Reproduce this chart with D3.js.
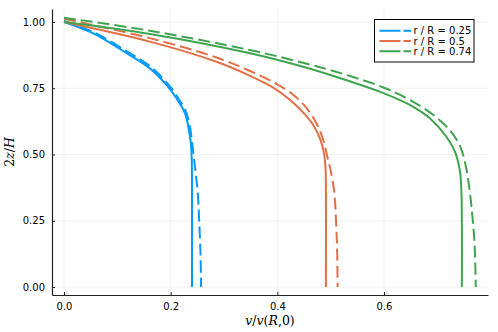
<!DOCTYPE html>
<html>
<head>
<meta charset="utf-8">
<script src="https://cdn.jsdelivr.net/npm/d3@7"></script>
<style>
  body { margin: 0; background: #fff; }
  svg { display: block; font-family: "DejaVu Sans", sans-serif; }
</style>
</head>
<body>
<div id="chart"></div>
<script>
// values: v/v(R,0) against 2z/H
const labels = ["r / R = 0.25", "r / R = 0.5", "r / R = 0.74"];
const colors = ["#009AFA", "#E36F47", "#3EA44E"];

const blueSolidV = [0, 0.055, 0.1175, 0.161, 0.1925, 0.211, 0.227, 0.2335, 0.238, 0.2395, 0.24, 0.24];
const blueSolidZ = [1.0, 0.957, 0.882, 0.825, 0.762, 0.712, 0.655, 0.6, 0.54, 0.48, 0.4, 0];
const blueDashV = [0, 0.055, 0.118, 0.162, 0.194, 0.213, 0.229, 0.2365, 0.2405, 0.244, 0.2475, 0.2506, 0.2535, 0.256, 0.257];
const blueDashZ = [1.004, 0.962, 0.889, 0.832, 0.768, 0.716, 0.66, 0.6, 0.54, 0.48, 0.42, 0.36, 0.25, 0.12, 0];

const orangeSolidV = [0, 0.161, 0.286, 0.349, 0.39, 0.424, 0.45, 0.467, 0.48, 0.487, 0.49, 0.491, 0.491];
const orangeSolidZ = [1.0, 0.926, 0.85, 0.797, 0.755, 0.706, 0.655, 0.612, 0.56, 0.51, 0.46, 0.4, 0];
const orangeDashV = [0, 0.161, 0.286, 0.349, 0.395, 0.43, 0.455, 0.474, 0.486, 0.494, 0.5, 0.507, 0.51, 0.512, 0.513];
const orangeDashZ = [1.012, 0.939, 0.866, 0.815, 0.77, 0.725, 0.675, 0.615, 0.555, 0.49, 0.44, 0.354, 0.25, 0.15, 0];

const greenSolidV = [0, 0.161, 0.349, 0.45, 0.53, 0.592, 0.655, 0.686, 0.717, 0.733, 0.742, 0.745, 0.746, 0.746];
const greenSolidZ = [1.0, 0.955, 0.882, 0.83, 0.78, 0.737, 0.68, 0.637, 0.567, 0.511, 0.442, 0.366, 0.25, 0];
const greenDashV = [0, 0.161, 0.349, 0.45, 0.53, 0.6, 0.649, 0.692, 0.724, 0.743, 0.754, 0.76, 0.764, 0.769, 0.771, 0.772];
const greenDashZ = [1.016, 0.967, 0.894, 0.845, 0.8, 0.752, 0.705, 0.65, 0.59, 0.53, 0.45, 0.372, 0.303, 0.19, 0.1, 0];

const xTicks = [0.0, 0.2, 0.4, 0.6];
const yTicks = [0.0, 0.25, 0.5, 0.75, 1.0];

const width = 498;
const height = 332;
const marginLeft = 52;
const marginRight = 10;
const marginTop = 9;
const marginBottom = 37;

const x = d3.scaleLinear().domain([-0.0225, 0.795]).range([marginLeft, width - marginRight]);
const y = d3.scaleLinear().domain([-0.0302, 1.049]).range([height - marginBottom, marginTop]);

const svg = d3.create("svg")
  .attr("width", width)
  .attr("height", height)
  .attr("viewBox", [0, 0, width, height]);

// grid
svg.append("g")
  .attr("stroke", "#000")
  .attr("stroke-opacity", 0.1)
  .attr("stroke-width", 0.6)
  .call(g => g.selectAll(".vx").data(xTicks).join("line")
    .attr("class", "vx")
    .attr("x1", d => x(d)).attr("x2", d => x(d))
    .attr("y1", marginTop).attr("y2", height - marginBottom))
  .call(g => g.selectAll(".hy").data(yTicks).join("line")
    .attr("class", "hy")
    .attr("x1", marginLeft).attr("x2", width - marginRight)
    .attr("y1", d => y(d)).attr("y2", d => y(d)));

// axes
const xAxis = svg.append("g")
  .attr("transform", `translate(0,${height - marginBottom})`)
  .call(d3.axisBottom(x).tickValues(xTicks).tickFormat(d3.format(".1f")).tickSizeInner(-3).tickSizeOuter(0).tickPadding(8));

const yAxis = svg.append("g")
  .attr("transform", `translate(${marginLeft},0)`)
  .call(d3.axisLeft(y).tickValues(yTicks).tickFormat(d3.format(".2f")).tickSizeInner(-3).tickSizeOuter(0).tickPadding(7));

[xAxis, yAxis].forEach(a => {
  a.select(".domain").attr("stroke", "#222").attr("stroke-width", 1.2);
  a.selectAll(".tick line").attr("stroke", "#222").attr("stroke-width", 1);
  a.selectAll(".tick text").attr("font-size", 10).attr("fill", "#000")
    .attr("font-family", "DejaVu Sans, sans-serif");
});

// curves
const series = [
  { v: blueSolidV, z: blueSolidZ, c: 0, dash: null },
  { v: blueDashV, z: blueDashZ, c: 0, dash: "12,5" },
  { v: orangeSolidV, z: orangeSolidZ, c: 1, dash: null },
  { v: orangeDashV, z: orangeDashZ, c: 1, dash: "12,5" },
  { v: greenSolidV, z: greenSolidZ, c: 2, dash: null },
  { v: greenDashV, z: greenDashZ, c: 2, dash: "12,5" }
];

const line = d3.line()
  .x(d => x(d[0]))
  .y(d => y(d[1]))
  .curve(d3.curveCatmullRom.alpha(0.5));

svg.append("g")
  .attr("fill", "none")
  .attr("stroke-width", 2)
  .selectAll("path")
  .data(series)
  .join("path")
  .attr("stroke", d => colors[d.c])
  .attr("stroke-dasharray", d => d.dash)
  .attr("d", d => line(d.v.map((v, i) => [v, d.z[i]])));

// legend
const legend = svg.append("g").attr("transform", "translate(374.5,19.5)");
legend.append("rect")
  .attr("width", 99.5).attr("height", 42.5)
  .attr("fill", "#fff").attr("stroke", "#000").attr("stroke-width", 1);
labels.forEach((lab, i) => {
  const yy = 11.2 + i * 10.3;
  legend.append("line")
    .attr("x1", 5).attr("x2", 36.5).attr("y1", yy).attr("y2", yy)
    .attr("stroke", colors[i]).attr("stroke-width", 2)
    .attr("stroke-dasharray", "21,3,8");
  legend.append("text")
    .attr("x", 39).attr("y", yy).attr("dy", "0.35em")
    .attr("font-size", 10).attr("fill", "#000")
    .text(lab);
});

// axis labels, math style
const xl = svg.append("text")
  .attr("x", (marginLeft + width - marginRight) / 2)
  .attr("y", 325)
  .attr("text-anchor", "middle")
  .attr("font-family", "DejaVu Serif, serif")
  .attr("font-size", 12.5);
xl.append("tspan").attr("font-style", "italic").text("v");
xl.append("tspan").text("/");
xl.append("tspan").attr("font-style", "italic").text("v");
xl.append("tspan").text("(");
xl.append("tspan").attr("font-style", "italic").text("R");
xl.append("tspan").text(",0)");

const yl = svg.append("text")
  .attr("transform", `translate(14,${(marginTop + height - marginBottom) / 2}) rotate(-90)`)
  .attr("text-anchor", "middle")
  .attr("font-family", "DejaVu Serif, serif")
  .attr("font-size", 12.5);
yl.append("tspan").text("2");
yl.append("tspan").attr("font-style", "italic").text("z");
yl.append("tspan").text("/");
yl.append("tspan").attr("font-style", "italic").text("H");

document.getElementById("chart").appendChild(svg.node());
</script>
</body>
</html>
